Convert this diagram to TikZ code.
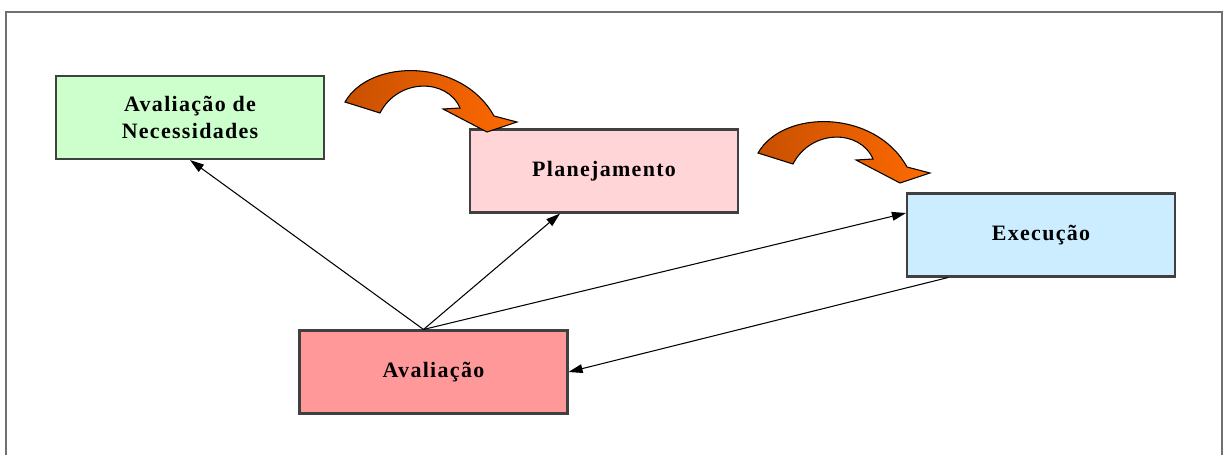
\documentclass[tikz,border=0pt]{standalone}
\usepackage{fontspec}
\setmainfont{Liberation Serif}
\usetikzlibrary{arrows.meta}
\definecolor{needG}{HTML}{CCFFCC}
\definecolor{planP}{HTML}{FFD5D8}
\definecolor{execB}{HTML}{CCECFF}
\definecolor{evalR}{HTML}{FF9999}
\definecolor{bendD}{HTML}{C85000}
\definecolor{bendL}{HTML}{FF6A00}
\definecolor{frameG}{HTML}{707070}

\begin{document}
\begin{tikzpicture}[x=0.02cm,y=-0.02cm,
  box/.style={draw=black!75,line width=1.2pt,minimum width=5.36cm,
    minimum height=1.66cm,align=center,
    font=\fontsize{12.5}{15}\selectfont\bfseries\addfontfeatures{LetterSpace=6}},
  link/.style={-{Triangle[length=8pt,width=5pt]},line width=0.6pt},
  bent/.style={draw=black,line width=0.6pt,left color=bendD,right color=bendL}]
  \useasboundingbox (0,0) rectangle (1227,454);
  % open frame
  \draw[frameG,line width=1.5pt] (6,470) -- (6,12) -- (1222,12) -- (1222,470);
  % boxes
  \node[box,fill=needG] (need) at (190,117.5) {Avaliação de\\Necessidades};
  \node[box,fill=planP] (plan) at (604,171) {Planejamento};
  \node[box,fill=execB] (exec) at (1041,235) {Execução};
  \node[box,fill=evalR] (eval) at (433.5,372) {Avaliação};
  % straight links
  \coordinate (hub) at ([xshift=-0.2cm]eval.north);
  \draw[link] (hub) -- (need.south);
  \draw[link] (hub) -- ([xshift=-0.88cm]plan.south);
  \draw[link] (hub) -- ([yshift=0.44cm]exec.west);
  \draw[link] ([xshift=-1.86cm]exec.south) -- (eval.east);
  % bent orange arrows
  \foreach \sx/\sy in {0/0,413/51}{
    \path[bent,shift={(\sx,\sy)}] (345,102) .. controls (370,58) and (462,58) .. (494,116)
      -- (517,122) -- (487,132) -- (443,109) -- (460,108)
      .. controls (447,78) and (398,78) .. (380,113) -- cycle;
  }
\end{tikzpicture}
\end{document}
